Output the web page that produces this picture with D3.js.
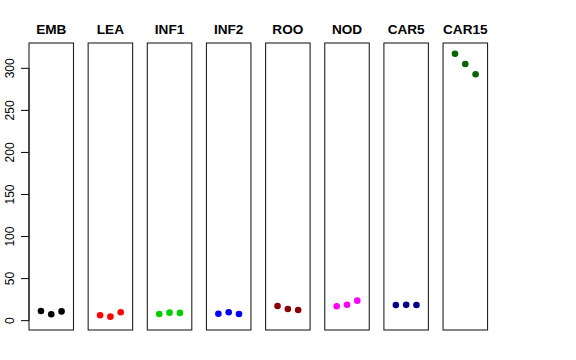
<!DOCTYPE html>
<html>
<head>
<meta charset="utf-8">
<script src="https://cdn.jsdelivr.net/npm/d3@7"></script>
<style>
  body { margin: 0; background: #fff; }
  text { font-family: "Liberation Sans", Arial, sans-serif; }
</style>
</head>
<body>
<div id="chart"></div>
<script>
// tissues and their three replicate values
const tissues = ['EMB', 'LEA', 'INF1', 'INF2', 'ROO', 'NOD', 'CAR5', 'CAR15'];
const colors = ['#000000', '#ff0000', '#00cd00', '#0000ff', '#8b0000', '#ff00ff', '#00008b', '#006400'];
const values = [
  [11.5, 7.6, 11],
  [6.4, 4.8, 10],
  [8, 9.5, 9.2],
  [8.3, 10, 8],
  [17.5, 13.9, 12.7],
  [17.1, 19, 23.8],
  [18.5, 18.8, 18.6],
  [317.4, 305.1, 292.9]
];
const yTicks = [0, 50, 100, 150, 200, 250, 300];

const W = 576, H = 360;
const svg = d3.select('#chart').append('svg')
  .attr('width', W)
  .attr('height', H);

const plotTop = 43, plotBottom = 330;
const y = d3.scaleLinear().domain([-11.1, 330.1]).range([plotBottom, plotTop]);

const panelLeft = 29, panelW = 44.5, panelStep = 59.15;

// y axis (only on first panel, R style)
const yAxis = svg.append('g');
yAxis.append('line')
  .attr('x1', panelLeft).attr('x2', panelLeft)
  .attr('y1', y(0)).attr('y2', y(300))
  .attr('stroke', '#000');
yAxis.selectAll('line.tick')
  .data(yTicks)
  .enter().append('line')
  .attr('class', 'tick')
  .attr('x1', panelLeft - 8).attr('x2', panelLeft)
  .attr('y1', d => y(d)).attr('y2', d => y(d))
  .attr('stroke', '#000');
yAxis.selectAll('text')
  .data(yTicks)
  .enter().append('text')
  .attr('transform', d => 'translate(14,' + y(d) + ') rotate(-90)')
  .attr('text-anchor', 'middle')
  .style('font-size', '12px')
  .text(d => d);

tissues.forEach((name, i) => {
  const x0 = panelLeft + i * panelStep;
  const x = d3.scaleLinear().domain([-0.16, 4.16]).range([x0, x0 + panelW]);
  const g = svg.append('g');

  g.append('rect')
    .attr('x', x0).attr('y', plotTop)
    .attr('width', panelW).attr('height', plotBottom - plotTop)
    .attr('fill', 'none')
    .attr('stroke', '#222')
    .attr('stroke-width', 1.1);

  g.append('text')
    .attr('x', x0 + panelW / 2)
    .attr('y', 34)
    .attr('text-anchor', 'middle')
    .style('font-size', '13.6px')
    .style('font-weight', 'bold')
    .text(name);

  g.selectAll('circle')
    .data(values[i])
    .enter().append('circle')
    .attr('cx', (d, j) => x(j + 1))
    .attr('cy', d => y(d))
    .attr('r', 3.3)
    .attr('fill', colors[i]);
});
</script>
</body>
</html>
